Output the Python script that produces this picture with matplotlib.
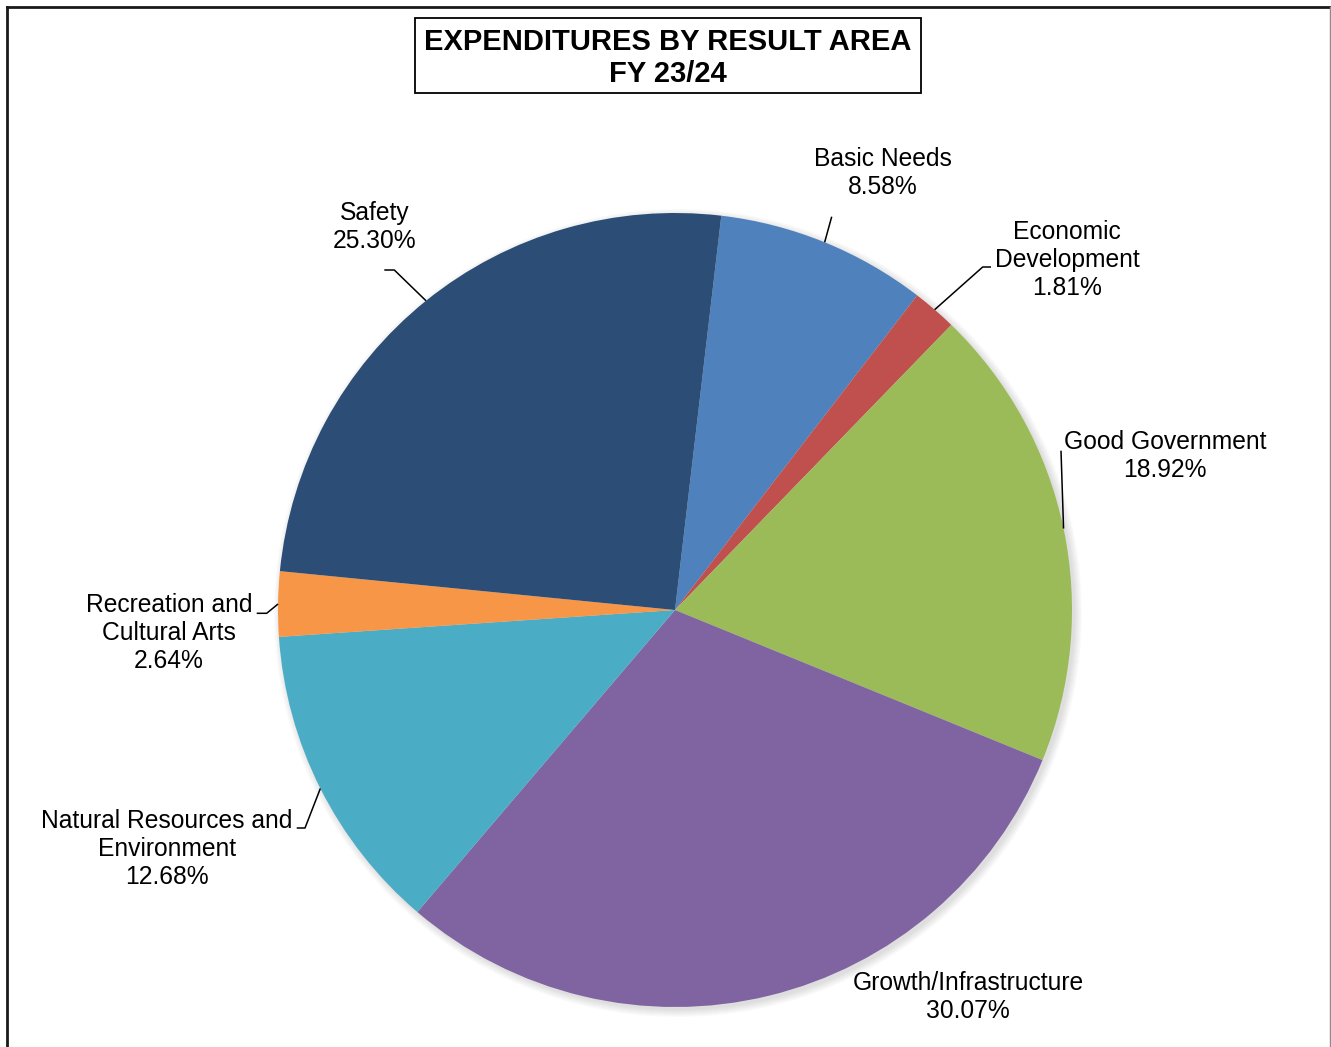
import matplotlib

matplotlib.use("Agg")
import matplotlib.pyplot as plt
import numpy as np
from matplotlib.patches import Circle, Rectangle

plt.rcParams["font.family"] = ["Liberation Sans", "DejaVu Sans"]

# Result areas, clockwise from the top of the pie
areas = [
    "Basic Needs",
    "Economic\nDevelopment",
    "Good Government",
    "Growth/Infrastructure",
    "Natural Resources and\nEnvironment",
    "Recreation and\nCultural Arts",
    "Safety",
]
shares = [8.58, 1.81, 18.92, 30.07, 12.68, 2.64, 25.30]
colors = ["#4F81BD", "#C0504D", "#9BBB59", "#8064A2", "#4BACC6", "#F79646", "#2C4D75"]

W, H = 1331, 1047
CX, CY, R = 675, 610, 397


def px(x, y):
    """Pixel position (origin top-left) to axes data coordinates."""
    return x, H - y


fig = plt.figure(figsize=(W / 100, H / 100), dpi=100)
ax = fig.add_axes([0, 0, 1, 1])

# soft drop shadow behind the pie
for k in range(8):
    ax.add_patch(Circle(px(CX + 3, CY + 3), R + k, color="#8c8c8c",
                        alpha=0.035, lw=0, zorder=0))

wedges, _ = ax.pie(shares, colors=colors, startangle=83.3, counterclock=False,
                   center=px(CX, CY), radius=R,
                   wedgeprops=dict(linewidth=0, zorder=1))

# label centre and leader path (from the wedge edge outwards)
label_pos = [(883, 173), (1067, 260), (1165, 456), (968, 997),
             (167, 849), (169, 633), (375, 227)]
leaders = [
    [(831.7, 216.7)],
    [(982.7, 267), (991, 267)],
    [(1061, 450.7)],
    None,
    [(305, 828), (296.7, 828)],
    [(266.7, 613.3), (256.7, 613.3)],
    [(394.3, 270), (384.3, 270)],
]

for w, name, val, pos, path in zip(wedges, areas, shares, label_pos, leaders):
    ax.text(*px(*pos), f"{name}\n{val:.2f}%", ha="center", va="center",
            fontsize=17.7, linespacing=1.22, color="black", zorder=3)
    if path is None:
        continue
    mid = np.deg2rad((w.theta1 + w.theta2) / 2)
    start = (CX + R * np.cos(mid), H - CY + R * np.sin(mid))
    pts = [start] + [px(*p) for p in path]
    xs, ys = zip(*pts)
    ax.plot(xs, ys, color="black", lw=1.1, zorder=2, solid_capstyle="butt")

# title in a framed box
ax.add_patch(Rectangle(px(415, 93), 506, 75, fill=False, ec="black", lw=1.3, zorder=3))
ax.text(*px(668, 41.5), "EXPENDITURES BY RESULT AREA", ha="center", va="center",
        fontsize=21, fontweight="bold", zorder=4)
ax.text(*px(668, 74), "FY 23/24", ha="center", va="center",
        fontsize=21, fontweight="bold", zorder=4)

# chart border
ax.plot([6.5, 6.5], [0, H - 6.5], color="#1a1a1a", lw=2, zorder=5)
ax.plot([6.5, 1330], [H - 6.5, H - 6.5], color="#1a1a1a", lw=2, zorder=5)
ax.plot([1329.5, 1329.5], [0, H - 6.5], color="#8c8c8c", lw=1, zorder=5)

ax.set_xlim(0, W)
ax.set_ylim(0, H)
ax.set_aspect("auto")
ax.axis("off")

fig.savefig("out.png", dpi=100, facecolor="white")
